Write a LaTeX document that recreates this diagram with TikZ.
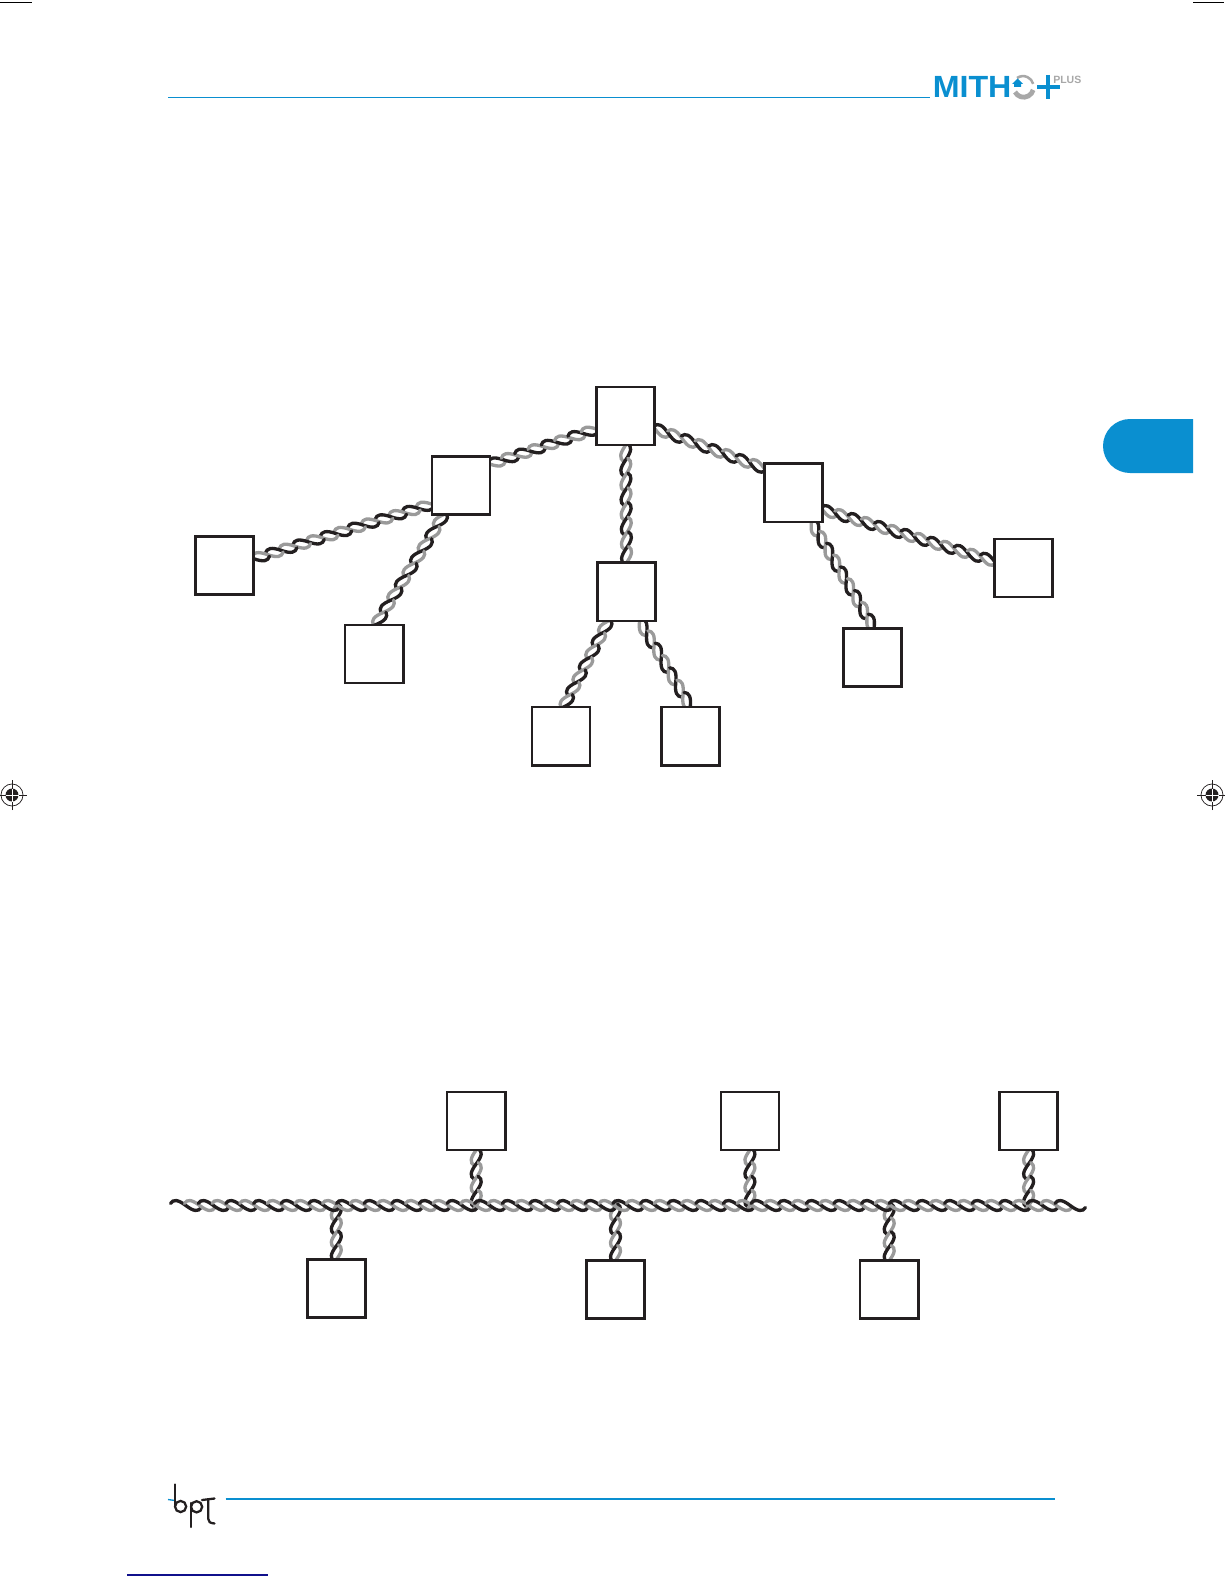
\documentclass[tikz,border=0pt]{standalone}
\usepackage{fontspec}
\setmainfont{Liberation Sans}
\definecolor{ink}{HTML}{231F20}
\definecolor{strand}{HTML}{9A9A9A}
\definecolor{bptblue}{HTML}{0A8FD0}
\definecolor{logogray}{HTML}{A8A8A8}
\definecolor{linknavy}{HTML}{10108C}
\pgfdeclarelayer{cables}
\pgfsetlayers{cables,main}
\tikzset{
  unitbox/.style={draw=ink,fill=white,line width=1.95pt,minimum size=43.6pt,inner sep=0pt,outer sep=0pt},
  blueline/.style={draw=bptblue,line width=1.1pt},
  wire/.style={line width=2.5pt,line cap=round},
  bptstroke/.style={draw=ink,line width=1.7pt,line cap=round},
  regline/.style={draw=ink,line width=0.55pt},
  cropline/.style={draw=black,line width=0.9pt}
}
% one S stroke of a twisted pair, in a scope along the cable
\newcommand\twiststroke[1]{%
  \pgfmathsetmacro\xs{#1*\twh}%
  \pgfmathtruncatemacro\odd{mod(#1+2,2)}%
  \ifnum\odd=0 \def\twcol{ink}\else\def\twcol{strand}\fi
  \draw[wire,draw=\twcol] (\xs-0.1*\twh,1.6)
    .. controls (\xs+0.1*\twh,4.7) and (\xs+0.4*\twh,4.7) .. (\xs+\twh,0)
    .. controls (\xs+1.6*\twh,-4.7) and (\xs+1.9*\twh,-4.7) .. (\xs+2.1*\twh,-1.6);%
}
\newcommand\twistsetup[2]{%
  \path (#1) coordinate (twa) (#2) coordinate (twb);
  \pgfpointanchor{twa}{center}\pgfgetlastxy{\twxa}{\twya}%
  \pgfpointanchor{twb}{center}\pgfgetlastxy{\twxb}{\twyb}%
  \pgfmathsetmacro\twang{atan2(\twyb-\twya,\twxb-\twxa)}%
  \pgfmathsetmacro\twlen{veclen(\twxb-\twxa,\twyb-\twya)}%
  \pgfmathtruncatemacro\twn{max(2,round(\twlen/10.4))}%
  \pgfmathsetmacro\twh{\twlen/\twn}%
}
% cable whose two strands both reach its ends, which lie under a box or the bus
\newcommand\twistcable[2]{%
  \twistsetup{#1}{#2}%
  \pgfmathtruncatemacro\twlast{\twn-1}%
  \begin{scope}[shift={(twa)},rotate=\twang,x=1pt,y=1pt]
    \clip (-3,-8) rectangle (\twlen+3,8);
    \foreach \i in {-1,...,\twlast}{\twiststroke{\i}}
  \end{scope}%
}
% free-ended cable: one strand runs out at each end
\newcommand\twistbus[2]{%
  \twistsetup{#1}{#2}%
  \pgfmathtruncatemacro\twlast{\twn-2}%
  \begin{scope}[shift={(twa)},rotate=\twang,x=1pt,y=1pt]
    \foreach \i in {0,...,\twlast}{\twiststroke{\i}}
  \end{scope}%
}
\newcommand\regmark[1]{%
  \begin{scope}[shift={(#1)}]
    \draw[regline] (0,0) circle[radius=11];
    \fill[ink] (0,0) circle[radius=6.5];
    \draw[regline] (-15,0) -- (15,0) (0,-15) -- (0,15);
    \draw[draw=white,line width=0.6pt] (-6.5,0) -- (6.5,0) (0,-6.5) -- (0,6.5);
  \end{scope}%
}
\begin{document}
\begin{tikzpicture}[x=0.75pt,y=0.75pt]
\useasboundingbox (0,0) rectangle (1224,-1584);
% tree units
\node[unitbox] (A) at (625.6,-416.1) {};
\node[unitbox] (B) at (461,-485.3) {};
\node[unitbox] (C) at (793.3,-492.8) {};
\node[unitbox] (D) at (224.7,-565.5) {};
\node[unitbox] (E) at (374.2,-653.9) {};
\node[unitbox] (F) at (626.6,-591.8) {};
\node[unitbox] (G) at (561,-736.2) {};
\node[unitbox] (H) at (690.3,-736.2) {};
\node[unitbox] (I) at (872.6,-657.4) {};
\node[unitbox] (J) at (1023.5,-568) {};
% bus units
\node[unitbox] (T1) at (476.2,-1121) {};
\node[unitbox] (T2) at (749.9,-1121) {};
\node[unitbox] (T3) at (1028.6,-1121) {};
\node[unitbox] (U1) at (336.3,-1288.7) {};
\node[unitbox] (U2) at (615.5,-1289.7) {};
\node[unitbox] (U3) at (889.2,-1289.7) {};
\coordinate (busL) at (172,-1205.5);
\coordinate (busR) at (1084,-1205.5);
\begin{pgfonlayer}{cables}
  \twistcable{B.36.6}{A.204.6}
  \twistcable{A.-23.2}{C.140.7}
  \twistcable{A.south}{F.north}
  \twistcable{B.213.3}{D.13.2}
  \twistcable{B.240.8}{E.87}
  \twistcable{C.-58.8}{I.87}
  \twistcable{C.-30}{J.167.7}
  \twistcable{F.238.9}{G.85}
  \twistcable{F.-66.5}{H.90}
  \twistcable{T1.south}{T1.south |- busL}
  \twistcable{T2.south}{T2.south |- busL}
  \twistcable{T3.south}{T3.south |- busL}
  \twistcable{U1.north |- busL}{U1.north}
  \twistcable{U2.north |- busL}{U2.north}
  \twistcable{U3.north |- busL}{U3.north}
  \twistbus{busL}{busR}
\end{pgfonlayer}
% header
\draw[blueline] (168,-97.5) -- (930,-97.5);
\node[inner sep=0pt,anchor=base west,text=bptblue,xscale=1.05] (mith) at (932.5,-98) {\fontsize{23}{23}\selectfont\bfseries MITH};
\node[inner sep=0pt,anchor=base west,text=logogray] (plus) at (1053,-83.5) {\fontsize{7.9}{8}\selectfont\bfseries PLUS};
\draw[draw=logogray,line width=1.9pt] (1017,-78) arc[start angle=125,end angle=15,radius=10.5];
\draw[draw=logogray,line width=3.6pt] (1015,-92) arc[start angle=208,end angle=345,radius=9.8];
\fill[bptblue] (1012,-84) -- (1017.5,-78.5) -- (1023,-84) -- (1021,-84) -- (1021,-87) -- (1014,-87) -- (1014,-84) -- cycle;
\draw[draw=bptblue,line width=2.4pt] (1037,-87) -- (1060,-87) (1048,-75) -- (1048,-99);
% side tab
\fill[bptblue] (1193,-419) -- (1130,-419) arc[start angle=90,end angle=270,radius=27] -- (1193,-473) -- cycle;
% footer
\draw[blueline] (225.5,-1499) -- (1055,-1499);
\draw[draw=linknavy,line width=0.8pt] (127,-1575) -- (268,-1575);
\draw[draw=bptblue,line width=1pt] (168,-1499.5) -- (175,-1500.5);
\draw[bptstroke] (175,-1484.5) -- (175,-1505);
\draw[bptstroke] (180.6,-1506.5) circle[radius=5.6];
\draw[bptstroke] (191,-1503) -- (191,-1527);
\draw[bptstroke] (196.6,-1506.8) circle[radius=5.6];
\draw[bptstroke] (202,-1500) -- (214.5,-1498.5);
\draw[bptstroke] (208.3,-1499.5) -- (208.3,-1519) .. controls (208.3,-1522) and (210,-1523) .. (214.5,-1523.5);
% printer marks
\draw[cropline] (0,-2.5) -- (32,-2.5);
\draw[cropline] (1193,-2.5) -- (1224,-2.5);
\regmark{12,-795}
\regmark{1212,-795}
\end{tikzpicture}
\end{document}
